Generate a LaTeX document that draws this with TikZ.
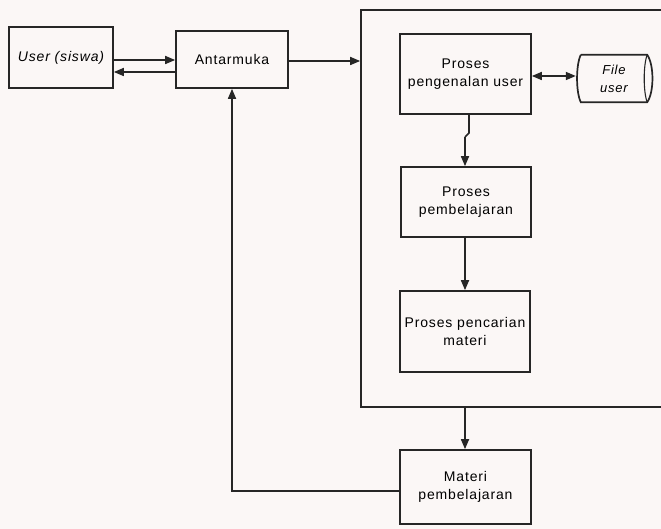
\documentclass[tikz,border=0pt]{standalone}
\usepackage{fontspec}
\setmainfont[LetterSpace=6]{Liberation Sans}
\usetikzlibrary{arrows.meta,calc}
\definecolor{ink}{HTML}{262626}
\definecolor{paper}{HTML}{FBF7F6}
\begin{document}
\begin{tikzpicture}[x=1pt,y=-1pt,
  box/.style={draw=ink,line width=1.7pt,inner sep=0pt,align=center,font=\fontsize{14}{18}\selectfont},
  arr/.style={draw=ink,line width=1.7pt,-{Triangle[length=10pt,width=8pt]}},
  arrtwo/.style={draw=ink,line width=1.7pt,{Triangle[length=10pt,width=8pt]}-{Triangle[length=10pt,width=8pt]}},
  line/.style={draw=ink,line width=1.7pt}]
\useasboundingbox (0,0) rectangle (661,529);
\fill[paper] (0,0) rectangle (661,529);
\clip (0,0) rectangle (661,529);

% nodes
\node[box,minimum width=104pt,minimum height=61pt] (user) at (61,57.5) {\itshape User (siswa)};
\node[box,minimum width=112pt,minimum height=57pt] (ant) at (232,59.5) {Antarmuka};
\node[box,minimum width=330pt,minimum height=397pt] (big) at (526,208.5) {};
\node[box,minimum width=131pt,minimum height=80pt] (peng) at (465.5,74) {Proses\\pengenalan user};
\node[inner sep=0pt,minimum width=76pt,minimum height=47pt,align=center,font=\fontsize{13}{18}\selectfont\itshape] (file) at (614,78.5) {File\\user};
\node[box,minimum width=130pt,minimum height=70pt] (pemb) at (466,202) {Proses\\pembelajaran};
\node[box,minimum width=130pt,minimum height=81pt] (cari) at (465,331.5) {Proses pencarian\\materi};
\node[box,minimum width=131pt,minimum height=74pt] (mat) at (465.5,487) {Materi\\pembelajaran};

% file user shape
\draw[line]
  ([xshift=5pt]file.north west) -- ([xshift=-5pt]file.north east)
  .. controls ([xshift=2pt,yshift=-10pt]file.north east) and ([xshift=2pt,yshift=10pt]file.south east) .. ([xshift=-5pt]file.south east)
  -- ([xshift=5pt]file.south west)
  .. controls ([yshift=10pt]file.south west) and ([yshift=-10pt]file.north west) .. ([xshift=5pt]file.north west);
\draw[draw=ink,line width=1.1pt]
  ([xshift=-5pt]file.north east) .. controls ([xshift=-9pt,yshift=-10pt]file.north east) and ([xshift=-9pt,yshift=10pt]file.south east) .. ([xshift=-5pt]file.south east);

% helper coordinates
\coordinate (r1) at (0,60);
\coordinate (r2) at (0,72);
\coordinate (r3) at (0,61);
\coordinate (r4) at (0,76);
\coordinate (r5) at (0,491);
\coordinate (j1) at (469,133);
\coordinate (j2) at (465,137);

% connectors
\draw[arr] (user.east |- r1) -- (ant.west |- r1);
\draw[arr] (ant.west |- r2) -- (user.east |- r2);
\draw[arr] (ant.east |- r3) -- (big.west |- r3);
\draw[arrtwo] (peng.east |- r4) -- (file.west |- r4);
\draw[line] (peng.south -| j1) -- (j1) -- (j2);
\draw[arr] (j2) -- (pemb.north -| j2);
\draw[arr] (pemb.south -| cari.north) -- (cari.north);
\draw[arr] (big.south -| cari.south) -- (mat.north -| cari.south);
\draw[arr] (mat.west |- r5) -| (ant.south);
\end{tikzpicture}
\end{document}
